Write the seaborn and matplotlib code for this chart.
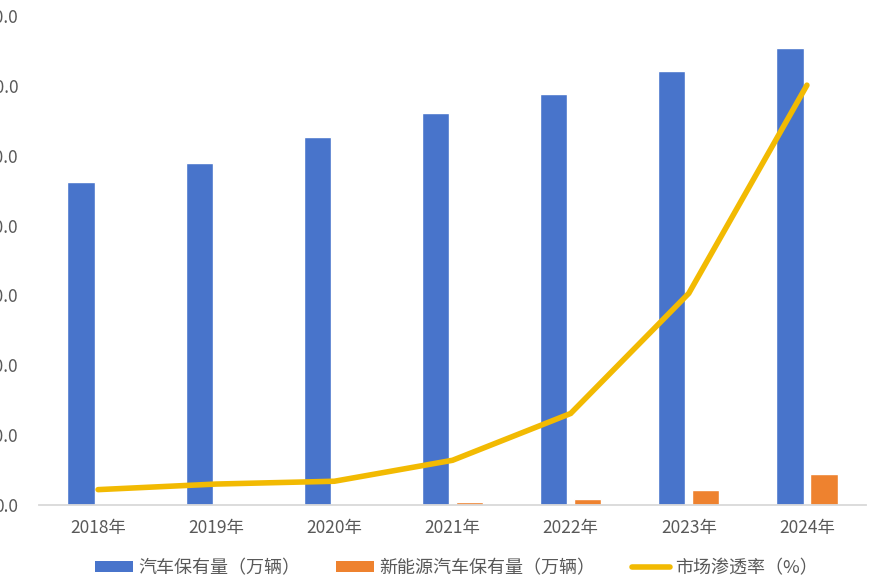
import matplotlib
matplotlib.use('Agg')
import matplotlib.pyplot as plt
import seaborn as sns
import pandas as pd
from matplotlib.patches import Patch
from matplotlib.lines import Line2D

sns.set_theme(style='white')
plt.rcParams['font.family'] = ['Noto Sans CJK SC', 'DejaVu Sans']

# values
years = ['2018年', '2019年', '2020年', '2021年', '2022年', '2023年', '2024年']
car_stock = [46.3, 49.0, 52.7, 56.1, 58.9, 62.1, 65.4]
nev_stock = [0.05, 0.08, 0.12, 0.4, 0.8, 2.1, 4.4]
penetration = [2.2, 3.0, 3.4, 6.4, 13.1, 30.3, 60.1]
series_names = ['汽车保有量（万辆）', '新能源汽车保有量（万辆）', '市场渗透率（%）']

blue = '#4874CB'
orange = '#EE822F'
yellow = '#F2BA02'

df = pd.DataFrame({'年份': years, series_names[0]: car_stock, series_names[1]: nev_stock})
long_df = df.melt(id_vars='年份', var_name='类别', value_name='数值')

fig = plt.figure(figsize=(8.74, 5.88), dpi=100)
ax = fig.add_axes([39 / 874, 1 - 505 / 588, (866 - 39) / 874, (505 - 16) / 588])

sns.barplot(data=long_df, x='年份', y='数值', hue='类别',
            palette=[blue, orange], width=0.576, gap=0.2, ax=ax,
            legend=False, saturation=1)
sns.lineplot(x=list(range(len(years))), y=penetration, ax=ax, color=yellow,
             linewidth=4, solid_capstyle='round', solid_joinstyle='miter', sort=False)

ax.set_xlim(-0.5, len(years) - 0.5)
ax.set_ylim(0, 70)
ax.set_yticks(range(0, 71, 10))
ax.set_yticklabels([f'{v:.1f}' for v in range(0, 71, 10)])
ax.set_xlabel('')
ax.set_ylabel('')
ax.tick_params(axis='y', length=0, pad=15, labelsize=12.5, labelcolor='#595959')
ax.tick_params(axis='x', length=0, pad=10, labelsize=12.5, labelcolor='#595959')
for side in ['top', 'right', 'left']:
    ax.spines[side].set_visible(False)
ax.spines['bottom'].set_color('#D9D9D9')
ax.spines['bottom'].set_linewidth(1.3)
ax.grid(False)

handles = [Patch(facecolor=blue, edgecolor='none'),
           Patch(facecolor=orange, edgecolor='none'),
           Line2D([0], [0], color=yellow, lw=4, solid_capstyle='round')]
fig.legend(handles, series_names, loc='center', bbox_to_anchor=(0.522, 1 - 568 / 588),
           ncol=3, frameon=False, fontsize=13, labelcolor='#595959',
           handlelength=2.1, handleheight=0.6, handletextpad=0.3, columnspacing=2.0)

fig.savefig('out.png', dpi=100)
